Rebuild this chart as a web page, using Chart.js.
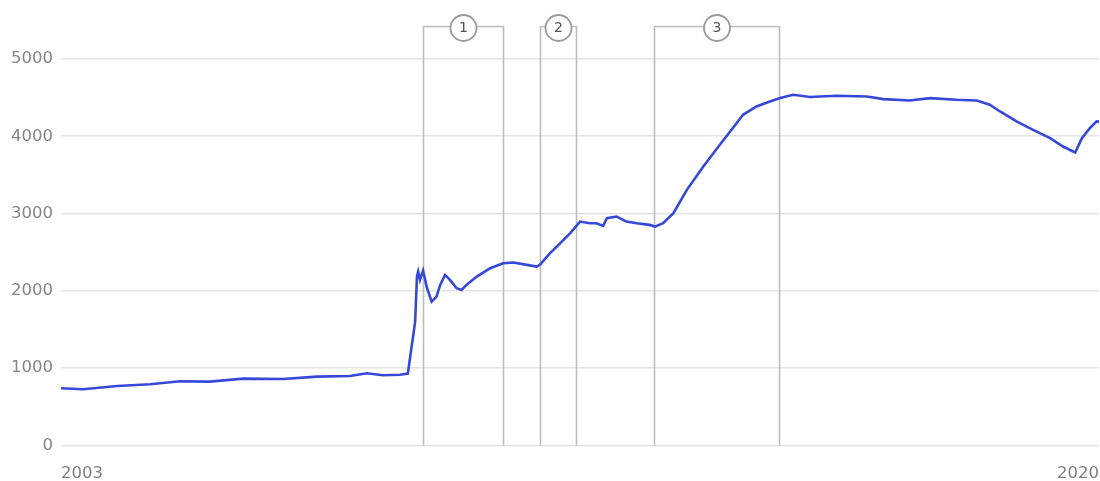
<!DOCTYPE html>
<html>
<head>
<meta charset="utf-8">
<script src="https://cdn.jsdelivr.net/npm/chart.js@4.4.0/dist/chart.umd.min.js"></script>
<style>
  html, body { margin: 0; padding: 0; background: #ffffff; overflow: hidden; }
  #c { display: block; width: 1100px; height: 481px; }
</style>
</head>
<body>
<canvas id="c" width="1100" height="481"></canvas>
<script>
// ---- data (decimal years, billions USD) ----
const dates = [
  2003.00, 2003.36, 2003.92, 2004.46, 2004.95, 2005.44, 2005.98, 2006.64, 2007.19, 2007.73,
  2008.01, 2008.27, 2008.55, 2008.68, 2008.80, 2008.83, 2008.85, 2008.88, 2008.93, 2008.99,
  2009.07, 2009.15, 2009.21, 2009.29, 2009.37, 2009.48, 2009.56, 2009.64, 2009.81, 2010.03,
  2010.24, 2010.41, 2010.63, 2010.79, 2010.84, 2011.01, 2011.12, 2011.34, 2011.50, 2011.66,
  2011.77, 2011.88, 2011.94, 2012.10, 2012.26, 2012.43, 2012.64, 2012.73, 2012.86, 2013.03,
  2013.25, 2013.52, 2013.79, 2013.96, 2014.17, 2014.39, 2014.61, 2014.78, 2014.99, 2015.27,
  2015.70, 2016.20, 2016.47, 2016.90, 2017.23, 2017.67, 2018.00, 2018.21, 2018.38, 2018.65,
  2018.92, 2019.20, 2019.41, 2019.61, 2019.72, 2019.85, 2019.96, 2020.00
];
const balance = [
  740, 727, 770, 792, 831, 826, 865, 861, 891, 900,
  935, 909, 915, 930, 1600, 2185, 2250, 2142, 2263, 2050,
  1861, 1926, 2078, 2207, 2142, 2035, 2013, 2078, 2185, 2294,
  2358, 2367, 2337, 2315, 2337, 2488, 2573, 2747, 2897, 2876,
  2876, 2841, 2941, 2962, 2897, 2876, 2854, 2832, 2876, 3006,
  3307, 3609, 3890, 4062, 4278, 4386, 4450, 4494, 4537, 4508,
  4524, 4515, 4481, 4463, 4494, 4472, 4463, 4408, 4321, 4192,
  4084, 3977, 3868, 3790, 3977, 4106, 4192, 4190
];
const xTicks = [2003, 2020];
const yTicks = [0, 1000, 2000, 3000, 4000, 5000];
const qeLabels = ['1', '2', '3'];
const qeStart = [2008.93, 2010.84, 2012.71];
const qeEnd   = [2010.24, 2011.44, 2014.76];

const points = dates.map((d, i) => ({ x: d, y: balance[i] }));

const bracketPlugin = {
  id: 'qeBrackets',
  beforeDatasetsDraw(chart) {
    const ctx = chart.ctx;
    const xs = chart.scales.x;
    const area = chart.chartArea;
    const topY = area.top - 32.5;
    const bottomY = area.bottom;
    const r = 13;
    ctx.save();
    for (let i = 0; i < qeLabels.length; i++) {
      const x1 = Math.round(xs.getPixelForValue(qeStart[i])) + 0.5;
      const x2 = Math.round(xs.getPixelForValue(qeEnd[i])) + 0.5;
      const cx = (x1 + x2) / 2;
      ctx.strokeStyle = '#bdbdbd';
      ctx.lineWidth = 1.6;
      ctx.beginPath();
      ctx.moveTo(x1, bottomY);
      ctx.lineTo(x1, topY);
      ctx.lineTo(cx - r, topY);
      ctx.moveTo(cx + r, topY);
      ctx.lineTo(x2, topY);
      ctx.lineTo(x2, bottomY);
      ctx.stroke();
      ctx.beginPath();
      ctx.arc(cx, topY + 1.5, r, 0, Math.PI * 2);
      ctx.fillStyle = '#ffffff';
      ctx.fill();
      ctx.strokeStyle = '#9a9a9a';
      ctx.lineWidth = 1.8;
      ctx.stroke();
      ctx.fillStyle = '#555555';
      ctx.font = '14px "DejaVu Sans"';
      ctx.textAlign = 'center';
      ctx.textBaseline = 'middle';
      ctx.fillText(qeLabels[i], cx, topY + 2);
    }
    ctx.restore();
  }
};

new Chart(document.getElementById('c'), {
  type: 'line',
  data: {
    datasets: [{
      data: points,
      borderColor: '#3548d8',
      borderWidth: 2.6,
      pointRadius: 0,
      tension: 0,
      fill: false
    }]
  },
  options: {
    responsive: false,
    maintainAspectRatio: false,
    devicePixelRatio: 1,
    animation: false,
    events: [],
    layout: { padding: { top: 59, right: 1, left: 0, bottom: 0 } },
    plugins: { legend: { display: false }, tooltip: { enabled: false } },
    scales: {
      x: {
        type: 'linear',
        min: xTicks[0],
        max: xTicks[xTicks.length - 1],
        afterBuildTicks(scale) { scale.ticks = xTicks.map(v => ({ value: v })); },
        afterFit(scale) { scale.height = 35.5; scale.paddingLeft = 0; scale.paddingRight = 0; },
        grid: { display: false, drawTicks: false },
        border: { display: false },
        ticks: {
          align: 'inner',
          padding: 18,
          maxRotation: 0,
          autoSkip: false,
          color: '#808080',
          font: { family: '"DejaVu Sans"', size: 16.5 },
          callback: v => String(v)
        }
      },
      y: {
        min: yTicks[0],
        max: yTicks[yTicks.length - 1],
        afterBuildTicks(scale) { scale.ticks = yTicks.map(v => ({ value: v })); },
        afterFit(scale) { scale.width = 61; },
        grid: { color: '#e4e4e4', lineWidth: 1.6, drawTicks: false },
        border: { display: false },
        ticks: {
          padding: 8,
          color: '#858585',
          font: { family: '"DejaVu Sans"', size: 16.5 },
          callback: v => String(v)
        }
      }
    }
  },
  plugins: [bracketPlugin]
});
</script>
</body>
</html>
